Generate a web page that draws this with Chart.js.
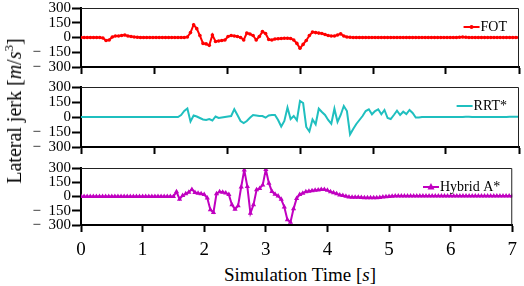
<!DOCTYPE html>
<html lang="en">
<head>
  <meta charset="UTF-8">
  <title>Lateral jerk</title>
  <script src="https://cdn.jsdelivr.net/npm/chart.js"></script>
  <style>
    body { margin: 0; background: #fff; }
    #wrap { position: relative; width: 524px; height: 286px; overflow: hidden; font-family: "Liberation Serif", "Times New Roman", serif; }
    canvas { position: absolute; left: 0; }
    #ytitle { position: absolute; left: 14px; top: 111px; transform: translate(-50%, -50%) rotate(-90deg); white-space: nowrap; font-size: 20px; line-height: 20px; }
    #ytitle sup { font-size: 13px; line-height: 0; }
    #xtitle { position: absolute; left: 300px; top: 274px; transform: translate(-50%, -50%); white-space: nowrap; font-size: 19px; line-height: 19px; }
  </style>
</head>
<body>
<div id="wrap">
  <canvas id="c1" width="524" height="84" style="top:-7px"></canvas>
  <canvas id="c2" width="524" height="85" style="top:72px"></canvas>
  <canvas id="c3" width="524" height="104" style="top:153px"></canvas>
  <div id="ytitle">Lateral jerk [<i>m</i>/<i>s</i><sup>3</sup>]</div>
  <div id="xtitle">Simulation Time [<i>s</i>]</div>
</div>

<script>
  // time samples (s)
  const time = [
    0, 0.05, 0.1, 0.15, 0.2, 0.25, 0.3, 0.35, 0.4, 0.45,
    0.5, 0.55, 0.6, 0.65, 0.7, 0.75, 0.8, 0.85, 0.9, 0.95,
    1, 1.05, 1.1, 1.15, 1.2, 1.25, 1.3, 1.35, 1.4, 1.45,
    1.5, 1.55, 1.6, 1.65, 1.7, 1.75, 1.8, 1.85, 1.9, 1.95,
    2, 2.05, 2.1, 2.15, 2.2, 2.25, 2.3, 2.35, 2.4, 2.45,
    2.5, 2.55, 2.6, 2.65, 2.7, 2.75, 2.8, 2.85, 2.9, 2.95,
    3, 3.05, 3.1, 3.15, 3.2, 3.25, 3.3, 3.35, 3.4, 3.45,
    3.5, 3.55, 3.6, 3.65, 3.7, 3.75, 3.8, 3.85, 3.9, 3.95,
    4, 4.05, 4.1, 4.15, 4.2, 4.25, 4.3, 4.35, 4.4, 4.45,
    4.5, 4.55, 4.6, 4.65, 4.7, 4.75, 4.8, 4.85, 4.9, 4.95,
    5, 5.05, 5.1, 5.15, 5.2, 5.25, 5.3, 5.35, 5.4, 5.45,
    5.5, 5.55, 5.6, 5.65, 5.7, 5.75, 5.8, 5.85, 5.9, 5.95,
    6, 6.05, 6.1, 6.15, 6.2, 6.25, 6.3, 6.35, 6.4, 6.45,
    6.5, 6.55, 6.6, 6.65, 6.7, 6.75, 6.8, 6.85, 6.9, 6.95,
    7
  ];

  const fot = [
    0, 0, 0, 0, 0, 0, 0, -5, -30, -25,
    5, 15, 15, 20, 25, 15, 10, 5, 3, 0,
    0, 0, 0, 0, 0, 0, 0, 0, 0, 0,
    0, 0, 0, 0, 5, 50, 130, 90, 20, -60,
    -65, -80, 25, -40, -35, -30, -25, 10, 20, 15,
    10, 0, -25, 45, 35, 20, -25, 10, 60, 40,
    -20, -25, -15, -12, -10, -8, -8, -10, -25, -60,
    -110, -70, -30, 20, 55, 50, 45, 40, 30, 20,
    15, 15, 25, 37, 15, 5, 2, 0, 0, 0,
    0, 0, 0, 0, 0, 0, 0, 0, 0, 0,
    0, 0, 0, 0, 0, 0, 0, 0, 0, 0,
    0, 0, 0, 0, 0, 0, 0, 0, 0, 0,
    0, 3, 5, 3, 0, 0, 0, 0, 0, 0,
    0, 0, 0, 0, 0, 0, 0, 0, 0, 0,
    0
  ];

  const rrt = [
    0, 0, 0, 0, 0, 0, 0, 0, 0, 0,
    0, 0, 0, 0, 0, 0, 0, 0, 0, 0,
    0, 0, 0, 0, 0, 0, 0, 0, 0, 0,
    0, 0, 20, 60, 85, -45, 15, 5, -10, -25,
    -30, -20, -35, 5, -10, -5, 0, 5, 10, 78,
    20, -40, -60, -40, -7, 20, 15, 10, 10, -7,
    15, 20, 20, -30, -95, -40, 95, -20, 10, -33,
    160, 140, -100, -145, -25, -73, 83, 50, 20, -30,
    -67, 83, -50, 20, 110, 60, -175, -120, -70, -30,
    10, 60, 77, 27, 60, 77, 27, 70, -10, -20,
    20, 63, 20, 53, 30, 70, 40, -5, -5, 0,
    0, 0, 0, 0, 0, 0, 0, 0, 0, 0,
    0, 0, 0, 3, 3, 0, 0, 0, 0, 0,
    0, 0, 0, 0, 0, 0, 0, 3, 3, 3,
    3
  ];

  const hybrid = [
    0, 0, 0, 0, 0, 0, 0, 0, 0, 0,
    0, 0, 0, 0, 0, 0, 0, 0, 0, 0,
    0, 0, 0, 0, 0, 0, 0, 0, 0, 0,
    0, 50, -28, 10, 28, 45, 75, 42, 35, 28,
    20, -17, -140, -168, 30, 50, 45, 38, 20, -87,
    -133, -98, 100, 280, 105, -175, -87, 70, 85, 122,
    285, 140, 52, 25, 5, -30, -110, -245, -270, -130,
    -20, 20, 35, 50, 55, 60, 65, 68, 75, 75,
    65, 50, 40, 30, 15, 10, 2, -5, -8, -8,
    -8, -10, -12, -13, -13, -13, -12, -10, -5, -2,
    0, 3, 5, 5, 5, 5, 5, 5, 5, 5,
    5, 5, 5, 5, 5, 5, 5, 5, 5, 5,
    5, 5, 5, 5, 5, 5, 5, 5, 5, 5,
    5, 5, 5, 5, 5, 5, 5, 5, 5, 5,
    5
  ];

  const yTicks = [-300, -150, 0, 150, 300];
  const xTicksBottom = [0, 1, 2, 3, 4, 5, 6, 7];
  const xTicksTop = [0, 7 / 6, 14 / 6, 21 / 6, 28 / 6, 35 / 6, 7];

  const FONT = '"Liberation Serif", "Times New Roman", serif';

  // frame on top/right + legend drawn inside the plot
  const framePlugin = {
    id: 'frame',
    afterDraw(chart, args, o) {
      const ctx = chart.ctx, a = chart.chartArea;
      ctx.save();
      ctx.strokeStyle = '#222';
      ctx.lineWidth = 1;
      ctx.beginPath();
      ctx.moveTo(a.left, a.top + 0.5);
      ctx.lineTo(a.right - 0.5, a.top + 0.5);
      ctx.lineTo(a.right - 0.5, a.bottom);
      ctx.stroke();

      ctx.font = '14px ' + FONT;
      ctx.fillStyle = '#000';
      ctx.textAlign = 'right';
      ctx.textBaseline = 'middle';
      const tx = a.right - 12, ty = a.top + 19;
      ctx.fillText(o.label, tx, ty);
      const w = ctx.measureText(o.label).width;
      const x1 = tx - w - 1, x0 = x1 - 16;
      ctx.strokeStyle = o.color;
      ctx.fillStyle = o.color;
      ctx.lineWidth = 2;
      ctx.beginPath();
      ctx.moveTo(x0, ty);
      ctx.lineTo(x1, ty);
      ctx.stroke();
      const mx = (x0 + x1) / 2;
      if (o.marker === 'circle') {
        ctx.beginPath(); ctx.arc(mx, ty, 2, 0, Math.PI * 2); ctx.fill();
      } else if (o.marker === 'triangle') {
        ctx.beginPath();
        ctx.moveTo(mx, ty - 4); ctx.lineTo(mx + 3.5, ty + 2.5); ctx.lineTo(mx - 3.5, ty + 2.5);
        ctx.closePath(); ctx.fill();
      }
      ctx.restore();
    }
  };

  function panel(id, values, color, label, marker, bottom) {
    const pts = time.map((t, i) => ({ x: t, y: values[i] }));
    return new Chart(document.getElementById(id), {
      type: 'line',
      data: {
        datasets: [{
          data: pts,
          borderColor: color,
          backgroundColor: color,
          borderWidth: 2,
          pointStyle: marker === 'triangle' ? 'triangle' : 'circle',
          pointRadius: marker === 'triangle' ? 3 : (marker === 'circle' ? 1.8 : 0),
          pointBorderWidth: 0,
          tension: 0
        }]
      },
      options: {
        responsive: false,
        animation: false,
        devicePixelRatio: 1,
        layout: { padding: { top: 15, right: 5, left: 0, bottom: 0 } },
        plugins: {
          legend: { display: false },
          tooltip: { enabled: false },
          frame: { label: label, color: color, marker: marker }
        },
        scales: {
          x: {
            type: 'linear', min: 0, max: 7,
            border: { color: '#000', width: 2 },
            grid: { drawOnChartArea: false, tickLength: 7, tickWidth: 2, tickColor: '#000' },
            ticks: { display: bottom, autoSkip: false, maxRotation: 0, color: '#000', padding: 7, font: { family: FONT, size: 19 } },
            afterBuildTicks: s => { s.ticks = (bottom ? xTicksBottom : xTicksTop).map(v => ({ value: v })); },
            afterFit: s => { s.height = bottom ? 32 : 10; }
          },
          y: {
            min: -300, max: 300,
            border: { color: '#000', width: 2 },
            grid: { drawOnChartArea: false, tickLength: 9, tickWidth: 2, tickColor: '#000' },
            ticks: {
              autoSkip: false, color: '#000', padding: 1, font: { family: FONT, size: 15 },
              callback: v => v < 0 ? '\u2212\u2002' + Math.abs(v) : String(v)
            },
            afterBuildTicks: s => { s.ticks = yTicks.map(v => ({ value: v })); },
            afterFit: s => { s.width = 81; }
          }
        }
      },
      plugins: [framePlugin]
    });
  }

  function draw() {
    panel('c1', fot, '#ff0000', 'FOT', 'circle', false);
    panel('c2', rrt, '#1fbfbf', 'RRT*', 'none', false);
    panel('c3', hybrid, '#c000c0', 'Hybrid A*', 'triangle', true);
  }

  Promise.all([
    document.fonts.load('15px "Liberation Serif"'),
    document.fonts.load('19px "Liberation Serif"')
  ]).then(draw, draw);
</script>
</body>
</html>
